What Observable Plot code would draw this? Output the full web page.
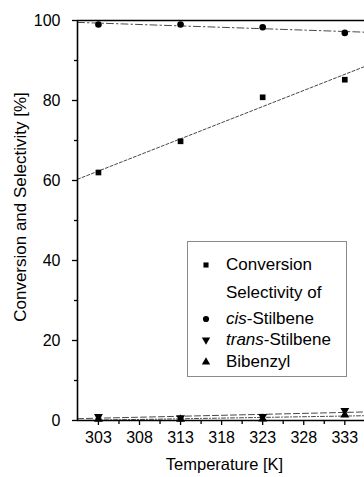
<!DOCTYPE html>
<html>
<head>
<meta charset="utf-8">
<script src="https://cdn.jsdelivr.net/npm/d3@7"></script>
<script src="https://cdn.jsdelivr.net/npm/@observablehq/plot@0.6"></script>
<style>
  html, body { margin: 0; padding: 0; background: #fff; overflow: hidden; }
  #wrap { position: relative; width: 364px; height: 477px; font-family: "Liberation Sans", Arial, sans-serif; }
  #legend { position: absolute; left: 187px; top: 241px; width: 160px; height: 136px; border: 1px solid #8a8a8a; box-sizing: border-box; font-size: 17px; color: #000; }
  #legend .row { position: absolute; left: 0; height: 20px; line-height: 20px; white-space: nowrap; }
  #legend .row svg { position: absolute; left: 13px; top: 5px; }
  #legend .row span { position: absolute; left: 38px; top: 0; }
</style>
</head>
<body>
<div id="wrap">
  <div id="chart"></div>
  <div id="legend"></div>
</div>
<script>
// ---- data ----
const temps = [303, 313, 323, 333];
const conversion = [62.0, 69.8, 80.8, 85.2];
const cisStilbene = [99.0, 99.0, 98.3, 96.9];
const transStilbene = [1.0, 0.7, 1.0, 2.5];
const bibenzyl = [0.3, 0.3, 0.4, 1.4];

const xTickLabels = [303, 308, 313, 318, 323, 328, 333];
const xMinorTicks = [305.5, 310.5, 315.5, 320.5, 325.5, 330.5];
const yTickLabels = [0, 20, 40, 60, 80, 100];
const yMinorTicks = [10, 30, 50, 70, 90];

const seriesNames = ["Conversion", "cis-Stilbene", "trans-Stilbene", "Bibenzyl"];
const seriesValues = [conversion, cisStilbene, transStilbene, bibenzyl];
const seriesSymbols = ["square", "circle", "triangle", "triangle"];
const seriesRotate = [0, 0, 180, 0];
const seriesDash = ["3,2", "7,3,1.5,3", "6,3", "4,2,1,2"];

const xDomain = [300.45, 335.4];
const yDomain = [0, 100];

// ---- build tables ----
const points = [];
seriesNames.forEach((s, i) => temps.forEach((t, j) => points.push({series: s, T: t, v: seriesValues[i][j], idx: i})));

function fit(xs, ys) {
  const mx = d3.mean(xs), my = d3.mean(ys);
  const b = d3.sum(xs, (x, k) => (x - mx) * (ys[k] - my)) / d3.sum(xs, x => (x - mx) ** 2);
  return x => my + b * (x - mx);
}
const fitLines = seriesNames.map((s, i) => {
  const f = fit(temps, seriesValues[i]);
  return xDomain.map(x => ({series: s, T: x, v: f(x)}));
});

const marks = [];
fitLines.forEach((ln, i) => marks.push(Plot.line(ln, {x: "T", y: "v", stroke: "#333", strokeWidth: 0.9, strokeDasharray: seriesDash[i]})));
seriesNames.forEach((s, i) => marks.push(Plot.dot(points.filter(d => d.idx === i), {
  x: "T", y: "v", symbol: () => seriesSymbols[i], r: i === 0 ? 3.2 : 3.3, fill: "#000", stroke: "none", rotate: seriesRotate[i]
})));

const chart = Plot.plot({
  width: 364, height: 477,
  marginLeft: 77, marginRight: 0, marginTop: 20, marginBottom: 57,
  x: {domain: xDomain},
  y: {domain: yDomain},
  style: {fontFamily: "'Liberation Sans', Arial, sans-serif", fontSize: "16px", color: "#000", background: "#fff"},
  marks: [
    ...marks,
    Plot.ruleY([yDomain[0], yDomain[1]], {stroke: "#000", strokeWidth: 1.6}),
    Plot.ruleX([xDomain[0]], {stroke: "#000", strokeWidth: 1.6}),
    Plot.axisX(xTickLabels, {tickSize: 5, tickPadding: 6, fontSize: 16, label: null, strokeWidth: 1.3}),
    Plot.axisX(xMinorTicks, {tickSize: 4, text: null, label: null, strokeWidth: 1.3}),
    Plot.axisY(yTickLabels, {tickSize: 5, tickPadding: 12, fontSize: 16, label: null, strokeWidth: 1.3}),
    Plot.axisY(yMinorTicks, {tickSize: 3, text: null, label: null, strokeWidth: 1.3}),
    Plot.text(["Temperature [K]"], {frameAnchor: "bottom", textAnchor: "middle", dx: 3.5, dy: 49, fontSize: 16.5, fill: "#000"}),
    Plot.text(["Conversion and Selectivity [%]"], {frameAnchor: "left", textAnchor: "middle", rotate: -90, dx: -57, dy: -13.5, fontSize: 17, fill: "#000"})
  ]
});
document.getElementById("chart").appendChild(chart);

// ---- legend ----
const legendRows = [
  {sym: 0, html: "Conversion", top: 13},
  {sym: null, html: "Selectivity of", top: 41},
  {sym: 1, html: "<i>cis</i>-Stilbene", top: 67},
  {sym: 2, html: "<i>trans</i>-Stilbene", top: 88},
  {sym: 3, html: "Bibenzyl", top: 110}
];
const legend = document.getElementById("legend");
legendRows.forEach(r => {
  const row = document.createElement("div");
  row.className = "row";
  row.style.top = r.top + "px";
  let svg = "";
  if (r.sym !== null) {
    const p = d3.path();
    const sym = {square: d3.symbolSquare, circle: d3.symbolCircle, triangle: d3.symbolTriangle}[seriesSymbols[r.sym]];
    const path = d3.symbol(sym, r.sym === 0 ? 26 : 30)();
    svg = `<svg width="10" height="10" viewBox="-5 -5 10 10"><path d="${path}" transform="rotate(${seriesRotate[r.sym]})" fill="#000"/></svg>`;
  }
  row.innerHTML = svg + `<span>${r.html}</span>`;
  legend.appendChild(row);
});
</script>
</body>
</html>
